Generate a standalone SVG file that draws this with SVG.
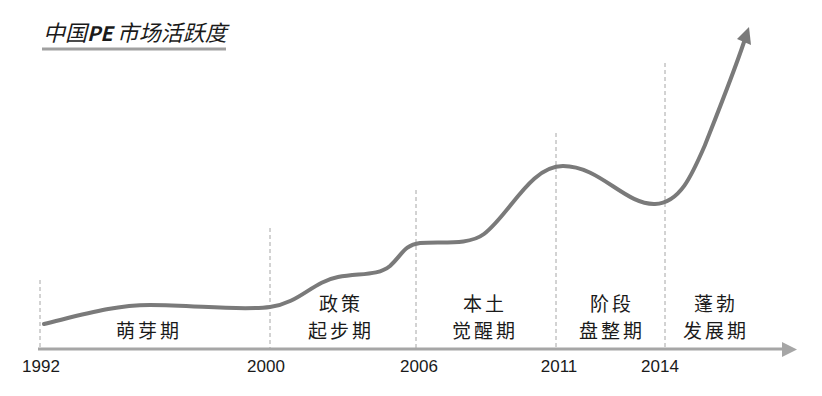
<svg xmlns="http://www.w3.org/2000/svg" width="822" height="396" viewBox="0 0 822 396">
<style>
.dash{stroke:#a6a6a6;stroke-width:1;stroke-dasharray:4,3;fill:none}
.yr{font-family:"Liberation Sans","Noto Sans",sans-serif;font-size:17px;fill:#1a1a1a;text-anchor:middle}
.ph{font-family:"Noto Sans CJK SC",sans-serif;font-size:19px;fill:#1a1a1a;text-anchor:middle;letter-spacing:3px}
</style>
<rect width="822" height="396" fill="#ffffff"/>
<g id="title">
<text x="43" y="41" font-family="'Noto Sans CJK SC',sans-serif" font-size="22" font-style="italic" fill="#1a1a1a">中国<tspan font-weight="bold" font-size="20">PE</tspan><tspan dx="4">市场活跃度</tspan></text>
<line x1="42" y1="49" x2="226" y2="49" stroke="#a0a0a0" stroke-width="3"/>
</g>
<g id="gridlines">
<line class="dash" x1="40" y1="280" x2="40" y2="349"/>
<line class="dash" x1="270" y1="228" x2="270" y2="349"/>
<line class="dash" x1="416" y1="190" x2="416" y2="349"/>
<line class="dash" x1="556" y1="133" x2="556" y2="349"/>
<line class="dash" x1="665" y1="63" x2="665" y2="349"/>
</g>
<g id="connectors">
<g id="axis">
<line x1="38" y1="349" x2="784" y2="349" stroke="#a6a6a6" stroke-width="3"/>
<polygon points="782,342 797,349.5 782,357" fill="#a6a6a6"/>
</g>
<g id="curve">
<path d="M44,324 C85,314 115,305 150,305 C195,305 240,311 270,307 C300,303 312,282 338,277 C360,273 378,276 390,266 C402,255 404,245 420,243 C440,241 468,246 484,234 C510,214 530,166 563,166 C600,166 625,205 655,204 C680,203 692,175 705,145 C718,112 734,72 744,42" fill="none" stroke="#7a7a7a" stroke-width="4" stroke-linecap="round"/>
<polygon points="737,39 749,27 751,45" fill="#7a7a7a"/>
</g>
</g>
<g id="years">
<text class="yr" x="41" y="372">1992</text>
<text class="yr" x="266" y="372">2000</text>
<text class="yr" x="419" y="372">2006</text>
<text class="yr" x="559" y="372">2011</text>
<text class="yr" x="660" y="372">2014</text>
</g>
<g id="phase1"><text class="ph" x="149" y="338">萌芽期</text></g>
<g id="phase2"><text class="ph" x="341" y="311">政策</text><text class="ph" x="341" y="338">起步期</text></g>
<g id="phase3"><text class="ph" x="485" y="311">本土</text><text class="ph" x="485" y="338">觉醒期</text></g>
<g id="phase4"><text class="ph" x="612" y="311">阶段</text><text class="ph" x="612" y="338">盘整期</text></g>
<g id="phase5"><text class="ph" x="716" y="311">蓬勃</text><text class="ph" x="716" y="338">发展期</text></g>
</svg>
